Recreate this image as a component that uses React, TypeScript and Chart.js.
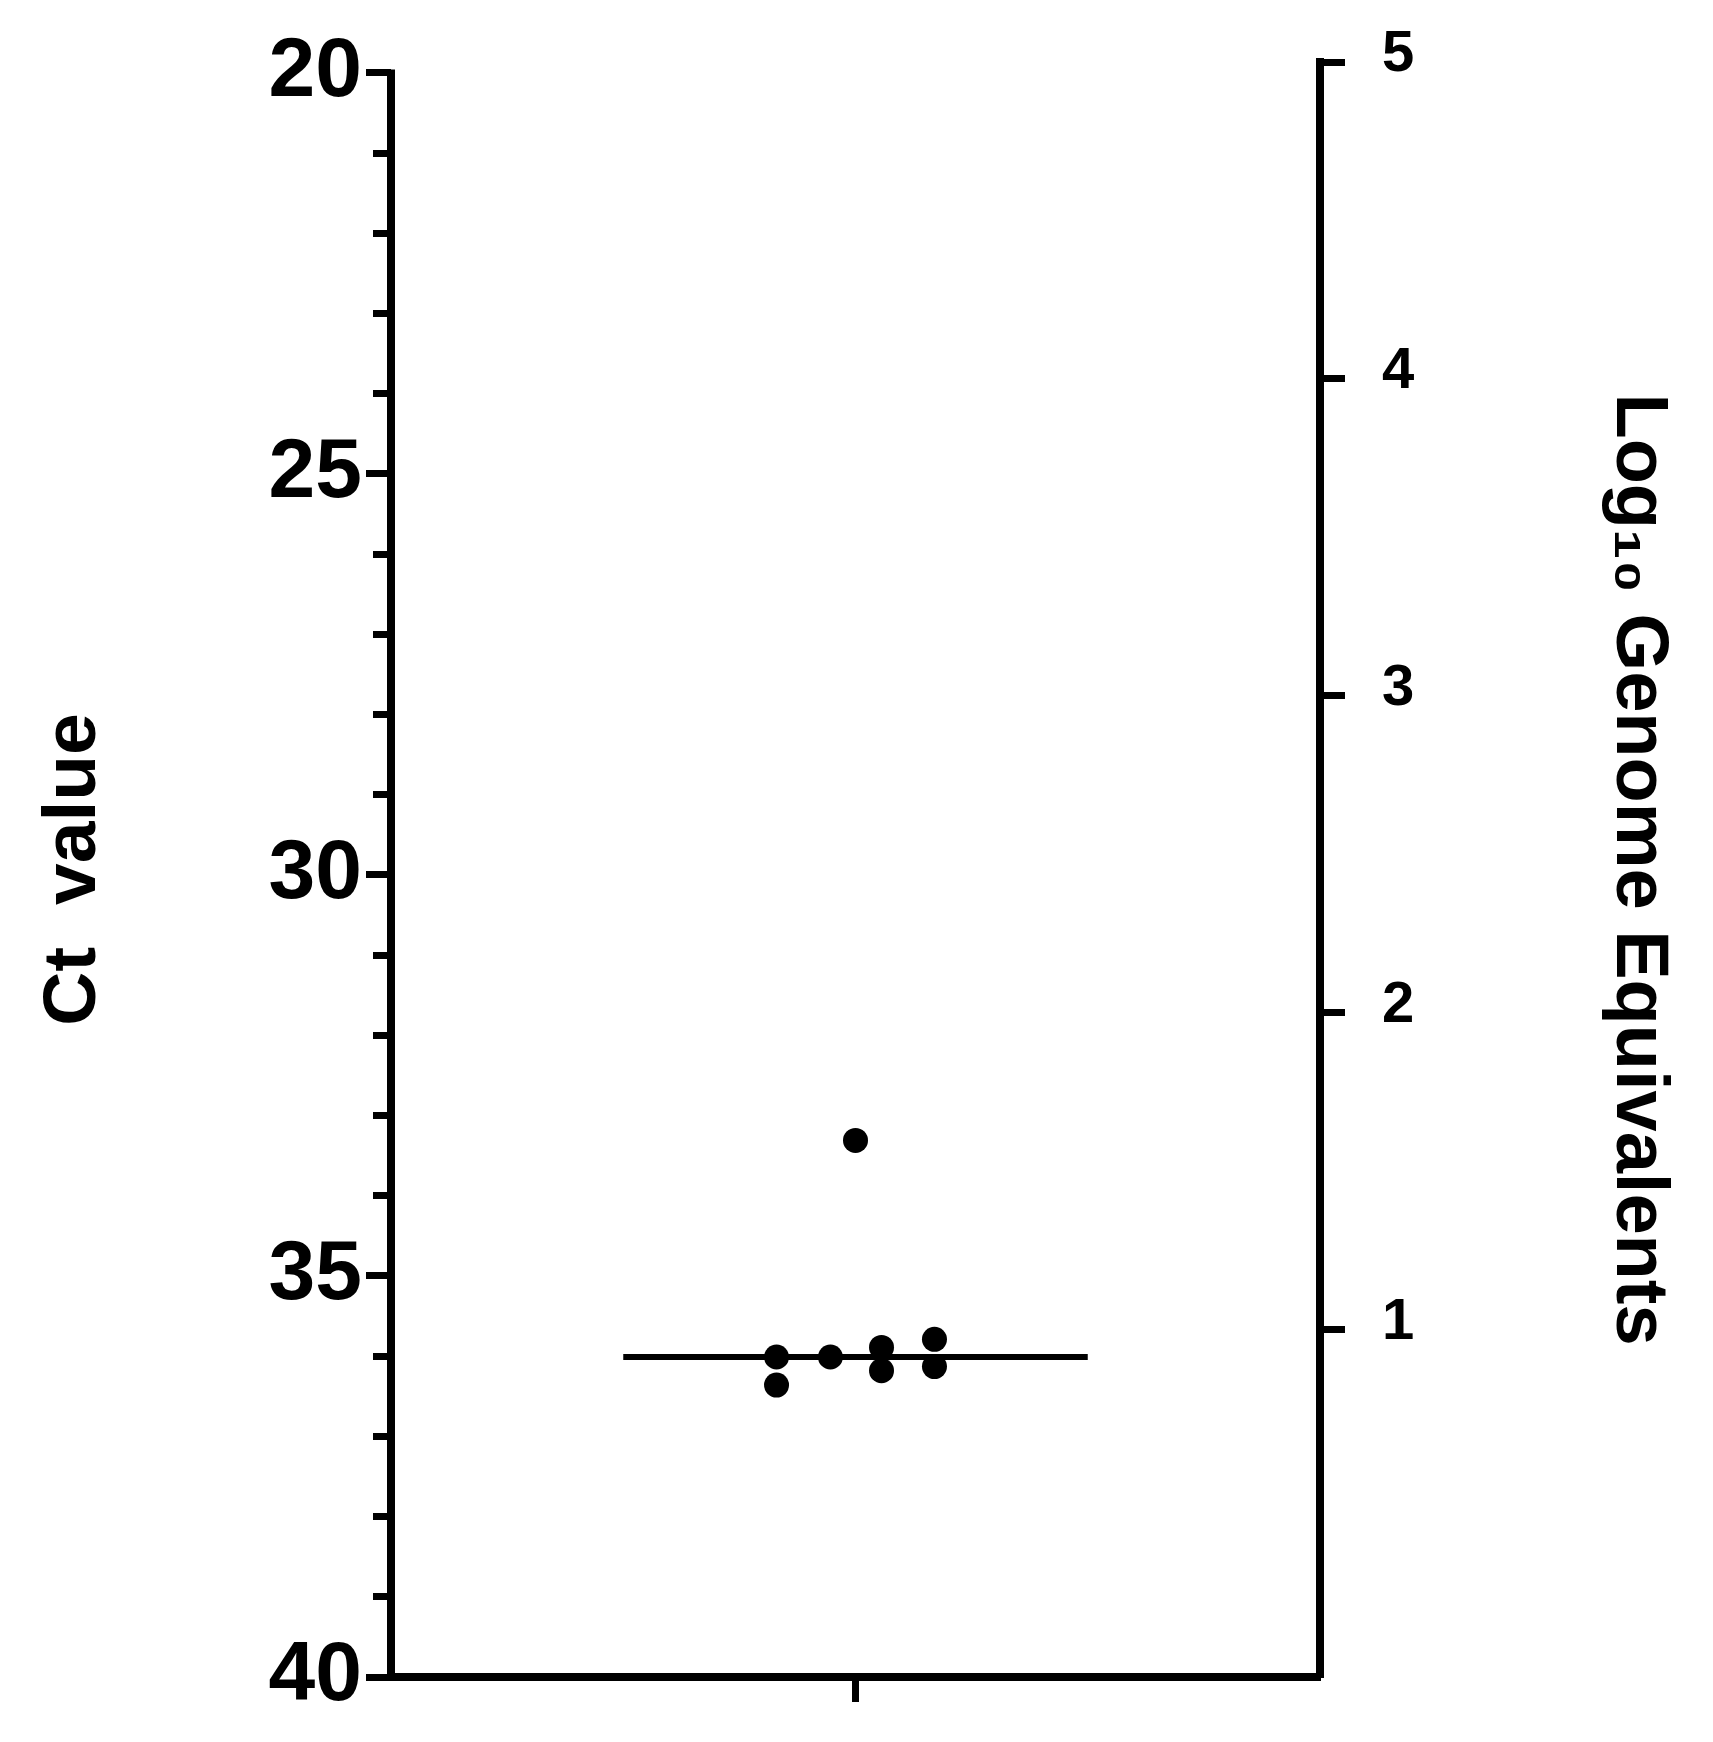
import React, { useEffect, useRef } from 'react';
import { Chart, registerables } from 'chart.js';

Chart.register(...registerables);

// ---- data ----
const dotX = [1.0, 0.83, 0.83, 0.946, 1.056, 1.056, 1.17, 1.17];
const dotCt = [33.31, 36.01, 36.36, 36.01, 35.89, 36.18, 35.79, 36.13];
const medianX = [0.5, 1.5];
const medianCt = [36.01, 36.01];

const leftTickValues = [20, 21, 22, 23, 24, 25, 26, 27, 28, 29, 30, 31, 32, 33, 34, 35, 36, 37, 38, 39, 40];
const leftLabelValues = [20, 25, 30, 35, 40];
const rightTickValues = [1, 2, 3, 4, 5];
const xTickValues = [1];

const leftTitle = 'Ct  value';
const rightTitle = 'Log\u2081\u2080 Genome Equivalents';

const W = 1697;
const H = 1726;
const FONT = '"Liberation Sans", Arial, sans-serif';

export default function App() {
  const ref = useRef<HTMLCanvasElement>(null);

  useEffect(() => {
    if (!ref.current) return;

    const leftBorder = {
      id: 'leftBorder',
      afterDraw(chart: any) {
        const s = chart.scales.y;
        const { ctx, chartArea } = chart;
        ctx.save();
        ctx.strokeStyle = '#000';
        ctx.lineWidth = 8;
        ctx.beginPath();
        ctx.moveTo(chartArea.left, s.getPixelForValue(leftLabelValues[0]) - 3.5);
        ctx.lineTo(chartArea.left, chartArea.bottom + 4);
        ctx.stroke();
        ctx.restore();
      },
    };

    const chart = new Chart(ref.current, {
      type: 'scatter',
      data: {
        datasets: [
          {
            data: dotX.map((x, i) => ({ x, y: dotCt[i] })),
            pointRadius: 12.5,
            pointBackgroundColor: '#000',
            pointBorderWidth: 0,
            xAxisID: 'x',
            yAxisID: 'y',
          },
          {
            data: medianX.map((x, i) => ({ x, y: medianCt[i] })),
            showLine: true,
            pointRadius: 0,
            borderColor: '#000',
            borderWidth: 6,
            xAxisID: 'x',
            yAxisID: 'y',
          },
        ],
      },
      options: {
        animation: false,
        responsive: false,
        devicePixelRatio: 1,
        events: [],
        layout: { autoPadding: false, padding: { left: 21, right: 23.6, top: 54, bottom: 0 } },
        plugins: { legend: { display: false }, tooltip: { enabled: false } },
        scales: {
          x: {
            type: 'linear',
            position: 'bottom',
            min: 0,
            max: 2,
            afterBuildTicks: (s: any) => { s.ticks = xTickValues.map((value) => ({ value })); },
            afterFit: (s: any) => { s.height = 57; s.paddingLeft = 0; s.paddingRight = 0; },
            ticks: { callback: () => '', padding: 0, autoSkip: false },
            grid: { drawOnChartArea: false, drawTicks: true, tickLength: 25, tickWidth: 7, tickColor: '#000' },
            border: { display: true, color: '#000', width: 8 },
          },
          y: {
            type: 'linear',
            position: 'left',
            reverse: true,
            min: 19.863,
            max: 40,
            afterBuildTicks: (s: any) => { s.ticks = leftTickValues.map((value) => ({ value })); },
            afterFit: (s: any) => { s.width = 362; s.paddingTop = 0; s.paddingBottom = 0; },
            ticks: {
              autoSkip: false,
              callback: (v: any) => (leftLabelValues.includes(Number(v)) ? String(v) : ''),
              color: '#000',
              padding: 4,
              font: { family: FONT, size: 84, weight: 'bold' },
            },
            grid: {
              drawOnChartArea: false,
              drawTicks: true,
              tickLength: 25,
              tickWidth: 7,
              tickColor: '#000',
              tickBorderDash: (ctx: any) => (leftLabelValues.includes(ctx.tick?.value) ? [] : [0, 7, 100]),
            },
            border: { display: false },
            title: {
              display: true,
              text: leftTitle,
              color: '#000',
              padding: 0,
              font: { family: FONT, size: 75, weight: 'bold' },
            },
          },
          y1: {
            type: 'linear',
            position: 'right',
            min: -0.095,
            max: 5,
            afterBuildTicks: (s: any) => { s.ticks = rightTickValues.map((value) => ({ value })); },
            afterFit: (s: any) => { s.width = 361.4; s.paddingTop = 0; s.paddingBottom = 0; },
            ticks: {
              autoSkip: false,
              callback: (v: any) => String(v),
              color: '#000',
              padding: 37,
              labelOffset: -7,
              font: { family: FONT, size: 58, weight: 'bold' },
            },
            grid: { drawOnChartArea: false, drawTicks: true, tickLength: 25, tickWidth: 7, tickColor: '#000' },
            border: { display: true, color: '#000', width: 8 },
            title: {
              display: true,
              text: rightTitle,
              color: '#000',
              padding: 0,
              font: { family: FONT, size: 74, weight: 'bold' },
            },
          },
        },
      } as any,
      plugins: [leftBorder],
    });

    return () => chart.destroy();
  }, []);

  return (
    <div style={{ width: W, height: H }}>
      <canvas ref={ref} width={W} height={H} style={{ display: 'block', width: W, height: H }} />
    </div>
  );
}
